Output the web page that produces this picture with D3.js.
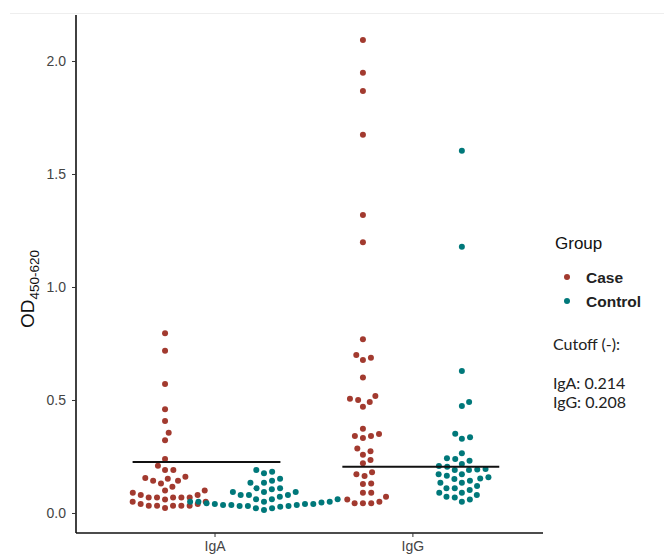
<!DOCTYPE html>
<html>
<head>
<meta charset="utf-8">
<script src="https://cdn.jsdelivr.net/npm/d3@7"></script>
<style>
  body { margin: 0; background: #fff; }
  svg { display: block; font-family: "Liberation Sans", Arial, sans-serif; }
</style>
</head>
<body>
<div id="container"></div>
<script>
/* DATA */
const antibodies = ["IgA", "IgG"];
const groups = ["Case", "Control"];
const groupColors = ["#a23a2f", "#00787a"];

const caseIgA = [0.795, 0.718, 0.571, 0.459, 0.407, 0.355, 0.322, 0.239, 0.209, 0.19, 0.19,
  0.16, 0.155, 0.152, 0.143, 0.143, 0.131, 0.116, 0.099, 0.099, 0.09, 0.08, 0.08,
  0.069, 0.069, 0.069, 0.069, 0.069, 0.06, 0.05, 0.05, 0.04, 0.04,
  0.032, 0.032, 0.032, 0.032, 0.032, 0.022];
const controlIgA = [0.19, 0.183, 0.176, 0.152, 0.143, 0.134, 0.134, 0.109, 0.109, 0.105,
  0.093, 0.093, 0.093, 0.08, 0.08, 0.08, 0.072, 0.061, 0.061, 0.061,
  0.05, 0.05, 0.05, 0.05, 0.046, 0.043, 0.04, 0.04, 0.04, 0.035, 0.035, 0.035,
  0.031, 0.031, 0.031, 0.028, 0.021, 0.021, 0.013];
const caseIgG = [2.093, 1.948, 1.867, 1.674, 1.319, 1.198, 0.769, 0.699, 0.687, 0.677,
  0.60, 0.518, 0.506, 0.50, 0.491, 0.47, 0.373, 0.35, 0.341, 0.341, 0.332,
  0.285, 0.273, 0.258, 0.235, 0.22, 0.18, 0.171, 0.164, 0.131, 0.128,
  0.09, 0.09, 0.072, 0.06, 0.05, 0.043, 0.043, 0.043];
const controlIgG = [1.603, 1.178, 0.628, 0.491, 0.473, 0.351, 0.335, 0.329,
  0.264, 0.242, 0.239, 0.231, 0.217, 0.208, 0.205, 0.195, 0.193, 0.19, 0.19,
  0.171, 0.171, 0.165, 0.158, 0.153, 0.15, 0.143, 0.134, 0.134, 0.119, 0.109, 0.109, 0.102,
  0.09, 0.09, 0.08, 0.072, 0.069, 0.06, 0.05];

// cutoff lines as drawn (level, start, end in category units)
const cutoffLevels = [0.226, 0.205];
const cutoffStart = [0.586, 1.646];
const cutoffEnd = [1.333, 2.439];
const cutoffLabels = ["IgA: 0.214", "IgG: 0.208"];

const yTicks = [0, 0.5, 1.0, 1.5, 2.0];

/* CONSTANTS */
const width = 664, height = 555;
const radius = 3, spacing = 8.3, dodge = 0.25;

/* SCALES */
const xScale = d3.scaleLinear()
  .domain([0.3, 2.66])
  .range([76, 543]);

const yScale = d3.scaleLinear()
  .domain([-0.0885, 2.2035])
  .range([533, 15]);

const colorScale = d3.scaleOrdinal().domain(groups).range(groupColors);

/* SVG */
const svg = d3.select("#container")
  .append("svg")
  .attr("width", width)
  .attr("height", height);

// faint top border of the screenshot
svg.append("line")
  .attr("x1", 10).attr("x2", width)
  .attr("y1", 13.5).attr("y2", 13.5)
  .attr("stroke", "#eeeeee");

/* SWARM LAYOUT */
function swarm(values, center) {
  const pts = values.map(v => ({ v, y: yScale(v) }))
    .sort((a, b) => b.y - a.y);
  const placed = [];
  pts.forEach(p => {
    const cands = [0];
    placed.forEach(q => {
      const dy = Math.abs(p.y - q.y);
      if (dy < spacing) {
        const dx = Math.sqrt(spacing * spacing - dy * dy);
        cands.push(q.dx + dx, q.dx - dx);
      }
    });
    cands.sort((a, b) => Math.abs(a) - Math.abs(b));
    const ok = cands.find(c => placed.every(q =>
      (c - q.dx) ** 2 + (p.y - q.y) ** 2 >= spacing * spacing - 0.01));
    p.dx = ok;
    placed.push(p);
  });
  return pts.map(p => ({ value: p.v, cx: center + p.dx, cy: p.y }));
}

const series = [
  { ab: 0, group: "Case", values: caseIgA },
  { ab: 0, group: "Control", values: controlIgA },
  { ab: 1, group: "Case", values: caseIgG },
  { ab: 1, group: "Control", values: controlIgG }
];

const points = series.flatMap(s => {
  const center = xScale(s.ab + 1 + (s.group === "Case" ? -dodge : dodge));
  return swarm(s.values, center).map(d => ({ ...d, group: s.group }));
});

/* POINTS */
svg.selectAll("circle.dot")
  .data(points)
  .join("circle")
  .attr("class", "dot")
  .attr("cx", d => d.cx)
  .attr("cy", d => d.cy)
  .attr("r", radius)
  .attr("fill", d => colorScale(d.group));

/* CUTOFF LINES */
svg.selectAll("line.cutoff")
  .data(cutoffLevels)
  .join("line")
  .attr("class", "cutoff")
  .attr("x1", (d, i) => xScale(cutoffStart[i]))
  .attr("x2", (d, i) => xScale(cutoffEnd[i]))
  .attr("y1", d => yScale(d))
  .attr("y2", d => yScale(d))
  .attr("stroke", "#111")
  .attr("stroke-width", 2);

/* AXES */
const yAxis = d3.axisLeft(yScale)
  .tickValues(yTicks)
  .tickFormat(d3.format(".1f"))
  .tickSize(4)
  .tickPadding(6);

const xAxis = d3.axisBottom(xScale)
  .tickValues([1, 2])
  .tickFormat(d => antibodies[d - 1])
  .tickSize(4)
  .tickPadding(4);

const gy = svg.append("g")
  .attr("transform", `translate(${xScale(0.3)},0)`)
  .call(yAxis);
gy.select(".domain").attr("d", `M0,${yScale(2.2035)}V${yScale(-0.0885)}`)
  .attr("stroke", "#111").attr("stroke-width", 1.6);

const gx = svg.append("g")
  .attr("transform", `translate(0,${yScale(-0.0885)})`)
  .call(xAxis);
gx.select(".domain").attr("d", `M${xScale(0.3)},0H${xScale(2.66)}`)
  .attr("stroke", "#111").attr("stroke-width", 1.6);

[gx, gy].forEach(g => {
  g.selectAll(".tick line").attr("stroke", "#333");
  g.selectAll(".tick text")
    .attr("fill", "#444")
    .attr("font-size", 14)
    .attr("font-family", "Liberation Sans, Arial, sans-serif");
});

/* Y LABEL */
const ylab = svg.append("text")
  .attr("transform", `translate(34,289) rotate(-90)`)
  .attr("text-anchor", "middle")
  .attr("fill", "#111")
  .attr("font-size", 19);
ylab.append("tspan").text("OD");
ylab.append("tspan").attr("dy", 5).attr("font-size", 13.5).text("450-620");

/* LEGEND */
const legend = svg.append("g").attr("transform", "translate(555,0)");
legend.append("text")
  .attr("x", 0).attr("y", 249)
  .attr("font-size", 17)
  .attr("fill", "#111")
  .text("Group");

const items = legend.selectAll("g.item")
  .data(groups)
  .join("g")
  .attr("class", "item")
  .attr("transform", (d, i) => `translate(0,${277 + i * 24})`);
items.append("circle")
  .attr("cx", 12).attr("cy", 0)
  .attr("r", radius)
  .attr("fill", d => colorScale(d));
items.append("text")
  .attr("x", 31).attr("y", 5.5)
  .attr("font-size", 15.5)
  .attr("font-weight", "bold")
  .attr("fill", "#222")
  .text(d => d);

const cut = svg.append("g")
  .attr("font-family", "Lato, 'Open Sans', sans-serif")
  .attr("font-size", 16)
  .attr("fill", "#222");
cut.append("text").attr("x", 553).attr("y", 350).text("Cutoff (-):");
cut.selectAll("text.cl")
  .data(cutoffLabels)
  .join("text")
  .attr("class", "cl")
  .attr("x", 553)
  .attr("y", (d, i) => 389 + i * 19)
  .text(d => d);
</script>
</body>
</html>
